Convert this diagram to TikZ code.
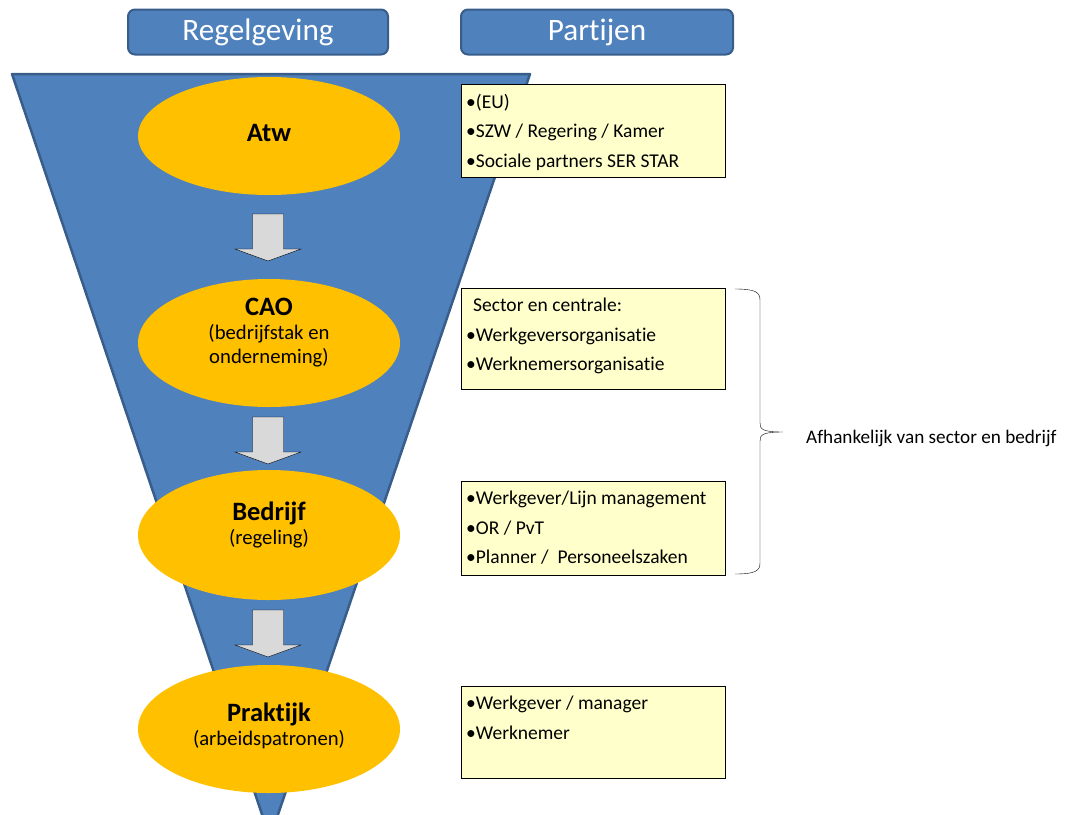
\documentclass[tikz,border=0pt]{standalone}
\usepackage{fontspec}
\setmainfont{Carlito}[Ligatures=NoCommon]
\usetikzlibrary{positioning,shapes.geometric}
\definecolor{funnelblue}{HTML}{4F81BD}
\definecolor{funneledge}{HTML}{385D8A}
\definecolor{layergold}{HTML}{FFC000}
\definecolor{noteyellow}{HTML}{FFFFCC}
\definecolor{arrowgray}{HTML}{D9D9D9}
\tikzset{
  header/.style={draw=funneledge, line width=2pt, fill=funnelblue, rounded corners=7pt,
    minimum height=45pt, text=white, font=\fontsize{31.2}{36}\selectfont, inner sep=0pt},
  layer/.style={ellipse, fill=layergold, minimum width=262pt, inner sep=0pt},
  layertext/.style={align=center, inner sep=0pt, font=\fontsize{20.7}{24}\selectfont},
  notebox/.style={draw=black, thin, fill=noteyellow, minimum width=264pt, anchor=north west, inner sep=0pt},
  notetext/.style={align=left, inner sep=0pt, font=\fontsize{19.5}{29.5}\selectfont},
  blockarrow/.style={draw=black, thin, fill=arrowgray},
}
\newcommand{\titel}[1]{{\fontsize{26.5}{24}\selectfont\bfseries #1}}

\begin{document}
\begin{tikzpicture}[x=1pt, y=-1pt]
    \useasboundingbox (0,0) rectangle (1070,814);
    \clip (0,0) rectangle (1070,814);
    % funnel
    \draw[fill=funnelblue, draw=funneledge, line width=2.5pt, line join=round] (12,74) -- (530,74) -- (270,838) -- cycle;
    % headers
    \node[header, minimum width=260pt] (regel) at (258,32) {Regelgeving};
    \node[header, minimum width=272pt] (partijen) at (597,32) {Partijen};
    % layers
    \node[layer, minimum height=118pt] (atw) at (269,136) {};
    \node[layer, minimum height=128pt] (cao) at (269,343) {};
    \node[layer, minimum height=130pt] (bedrijf) at (269,535) {};
    \node[layer, minimum height=128pt] (praktijk) at (269,729) {};
    \node[layertext] (atwtext) at (269,133) {\titel{Atw}};
    \node[layertext] (caotext) at (269,333) {\titel{CAO}\\(bedrijfstak en\\onderneming)};
    \node[layertext] (bedrijftext) at (269,525) {\titel{Bedrijf}\\(regeling)};
    \node[layertext] (praktijktext) at (269,726) {\titel{Praktijk}\\(arbeidspatronen)};
    \foreach \ytop in {214, 417, 610} {
      \draw[blockarrow, shift={(268,\ytop)}] (-15.5,0) -- (15.5,0) -- (15.5,35) -- (33,35) -- (0,47) -- (-33,35) -- (-15.5,35) -- cycle;
    }
    % partijen
    \node[notebox, minimum height=93pt] (eubox) at (461,84) {};
    \node[notebox, minimum height=101pt] (sectorbox) at (461,288) {};
    \node[notebox, minimum height=94pt] (bedrijfbox) at (461,481) {};
    \node[notebox, minimum height=92pt] (praktijkbox) at (461,686) {};
    \node[notetext, below right=10pt and 5pt of eubox.north west] (eulist) {•(EU)\\•SZW / Regering / Kamer\\•Sociale partners SER STAR};
    \node[notetext, below right=10pt and 12pt of sectorbox.north west] (sectorlist) {Sector en centrale:};
    \node[notetext, below right=39.5pt and 5pt of sectorbox.north west] (sectorlist2) {•Werkgeversorganisatie\\•Werknemersorganisatie};
    \node[notetext, below right=10pt and 5pt of bedrijfbox.north west] (bedrijflist) {•Werkgever/Lijn management\\•OR / PvT\\•Planner /\ \ Personeelszaken};
    \node[notetext, below right=10pt and 5pt of praktijkbox.north west] (praktijklist) {•Werkgever / manager\\•Werknemer};
    % brace
    \coordinate (bracetop) at (735,289);
    \coordinate (bracetip) at (783,432);
    \coordinate (bracebot) at (735,574);
    \draw[thin] (bracetop) .. controls (755,289) and (760,292) .. (760,300) -- (760,423)
      .. controls (760,429) and (762,432) .. (bracetip) .. controls (762,432) and (760,435) .. (760,441)
      -- (760,563) .. controls (760,571) and (755,574) .. (bracebot);
    \node[anchor=west, inner sep=0pt, font=\fontsize{19.2}{22}\selectfont] (afh) at (806,438) {Afhankelijk van sector en bedrijf};
  \end{tikzpicture}
\end{document}
